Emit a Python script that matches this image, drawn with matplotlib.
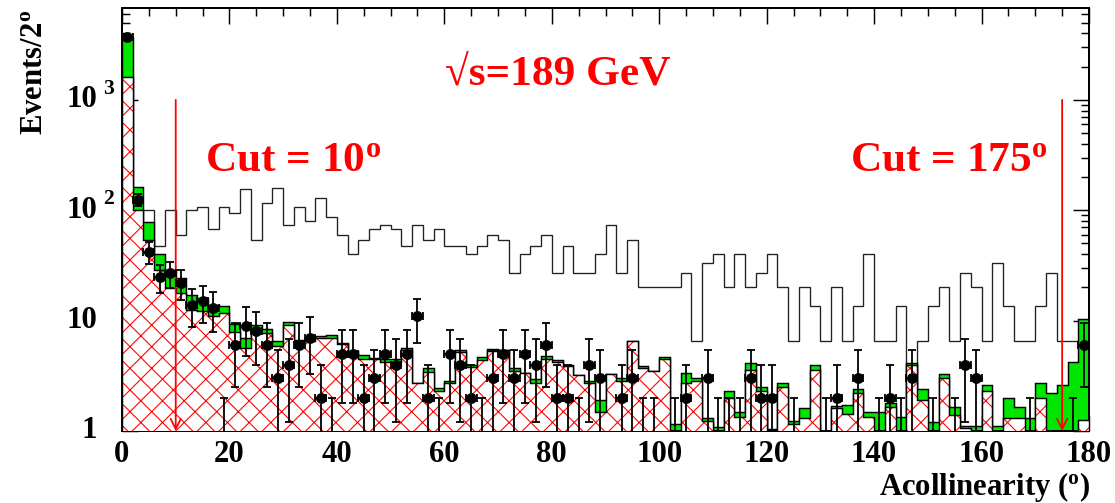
import numpy as np
import matplotlib
matplotlib.use("Agg")
import matplotlib.pyplot as plt
from matplotlib.ticker import MultipleLocator, LogLocator, NullFormatter, FixedLocator
from matplotlib.transforms import offset_copy

# acollinearity histogram, 2 degree bins from 0 to 180
bin_width = 2
edges = np.arange(0, 180 + bin_width, bin_width)
centers = edges[:-1] + bin_width / 2

# background 1 (red hatched)
bkg_red = [1600, 100, 54, 29, 19.8, 17.9, 12.6, 12.2, 11.0, 11.7,
           7.9, 5.6, 7.7, 7.7, 5.9, 9.2, 6.5, 6.6, 6.9, 7.0,
           6.2, 5.2, 4.5, 4.5, 4.2, 4.2, 5.4, 2.7, 3.46, 2.31,
           2.7, 5.15, 3.8, 4.4, 5.3, 5.45, 3.5, 3.35, 2.7, 4.5,
           4.2, 3.85, 3.2, 2.75, 1.5, 3.3, 2.85, 6.6, 3.7, 3.5,
           4.45, 0, 2.7, 2.85, 1.22, 0, 1.98, 1.35, 3.6, 2.28,
           0, 2.5, 1.15, 1.3, 3.6, 0, 1.6, 1.42, 2.23, 1.35,
           0, 1.66, 0, 3.98, 1.91, 0, 3.0, 1.4, 1.06, 0,
           2.28, 0, 1.3, 1.3, 0, 1.98, 0, 0, 0, 1.26]

# total background (green stacked on top of red)
bkg_total = [3600, 164, 78, 40, 29, 24.4, 17.2, 16, 14, 13.7,
             9.4, 7.0, 9.1, 8.4, 6.6, 9.7, 6.7, 7.0, 7.2, 7.4,
             6.3, 5.3, 4.9, 4.6, 4.5, 4.5, 5.65, 2.75, 3.7, 2.44,
             2.86, 5.4, 4.0, 4.7, 5.5, 5.45, 3.7, 3.35, 2.95, 4.74,
             4.4, 4.0, 3.2, 2.86, 1.91, 3.3, 3.0, 6.6, 3.9, 3.5,
             4.7, 1.16, 3.35, 3.05, 1.3, 1.08, 2.28, 1.5, 4.1, 2.5,
             1.05, 2.7, 1.22, 1.63, 4.0, 0, 1.7, 1.72, 2.4, 1.48,
             1.5, 1.78, 1.35, 4.17, 2.39, 1.2, 3.3, 1.64, 1.12, 1.1,
             2.6, 1.1, 1.98, 1.64, 1.3, 2.7, 2.2, 2.6, 4.2, 10.4]

# signal MC (open black histogram)
signal = [100, 100, 100, 47, 100, 60, 100, 107, 67, 107,
          95, 155, 54, 117, 160, 74, 107, 80, 128, 87,
          60, 40, 54, 67, 73, 67, 47, 73, 54, 67,
          47, 47, 40, 47, 60, 54, 27, 40, 47, 60,
          27, 47, 27, 27, 40, 73, 27, 54, 20, 20,
          20, 20, 27, 6.6, 33, 40, 20, 40, 20, 27,
          40, 20, 6.6, 20, 13.5, 6.6, 20, 6.6, 13.5, 40,
          6.6, 6.6, 13.5, 0, 6.6, 13.5, 20, 6.6, 27, 20,
          6.6, 33, 13.5, 6.6, 6.6, 13.5, 27, 6.6, 6.6, 6.6]

# data
data = [3700, 125, 42, 25, 27, 22, 14, 15, 13, 1,
        6, 9, 8, 6, 3, 4, 6, 7, 2, 1,
        5, 5, 2, 3, 5, 4, 5, 11, 2, 1,
        5, 4, 2, 1, 3, 5, 3, 5, 4, 6,
        2, 2, 1, 4, 3, 0, 2, 3, 1, 1,
        0, 1, 2, 0, 3, 1, 1, 1, 3, 2,
        2, 0, 1, 0, 0, 1, 2, 0, 3, 0,
        1, 2, 1, 3, 0, 1, 0, 1, 4, 3,
        0, 0, 0, 0, 1, 0, 0, 0, 1, 6]

data_err = [86, 16, 9.2, 7.1, 7.3, 6.6, 5.3, 5.5, 5.1, 1,
            3.5, 4.2, 4.0, 3.5, 2.45, 2.8, 3.5, 3.7, 2.0, 1,
            3.2, 3.2, 2.0, 2.45, 3.2, 2.8, 3.2, 4.7, 2.0, 1,
            3.2, 2.8, 2.0, 1, 2.45, 3.2, 2.45, 3.2, 2.8, 3.5,
            2.0, 2.0, 1, 2.8, 2.45, 0, 2.0, 2.45, 1, 1,
            0, 1, 2.0, 0, 2.45, 1, 1, 1, 2.45, 2.0,
            2.0, 0, 1, 0, 0, 1, 2.0, 0, 2.45, 0,
            1, 2.0, 1, 2.45, 0, 1, 0, 1, 2.8, 2.45,
            0, 0, 0, 0, 1, 0, 0, 0, 1, 3.5]

cuts = [10, 175]

plt.rcParams["font.family"] = "Liberation Serif"
plt.rcParams["font.weight"] = "bold"
plt.rcParams["mathtext.fontset"] = "custom"
plt.rcParams["mathtext.rm"] = "Liberation Serif:bold"
plt.rcParams["mathtext.bf"] = "Liberation Serif:bold"
plt.rcParams["mathtext.it"] = "Liberation Serif:bold"
plt.rcParams["hatch.linewidth"] = 0.6

dpi = 130
W, H = 1115, 503
fig = plt.figure(figsize=(W / dpi, H / dpi), dpi=dpi)
ax = fig.add_axes([122 / W, 1 - 431 / H, (1089 - 122) / W, (431 - 8) / H])
ax.set_yscale("log")

floor = 1e-3
sig = np.clip(np.array(signal, float), floor, None)
tot = np.clip(np.array(bkg_total, float), floor, None)
red = np.clip(np.array(bkg_red, float), floor, None)

ax.stairs(sig, edges, baseline=None, color="#222222", lw=0.75, zorder=1)

ax.stairs(tot, edges, baseline=floor, fill=True, color="#00e600", lw=0, zorder=2)
ax.stairs(tot, edges, baseline=floor, color="black", lw=0.8, zorder=2.1)

ax.stairs(red, edges, baseline=floor, fill=True, facecolor="white",
          edgecolor="red", hatch="xx", lw=0, zorder=3)
ax.stairs(red, edges, baseline=floor, color="black", lw=0.8, zorder=3.1)

# data points
d = np.array(data, float)
e = np.array(data_err, float)
big = d >= 2
low = np.minimum(e[big], d[big] - 0.01)
ax.errorbar(centers[big], d[big], xerr=bin_width / 2, yerr=[low, e[big]],
            fmt="o", color="black", ms=5, elinewidth=1.0, capsize=2.3,
            capthick=1.0, zorder=6)
one = d == 1
ax.errorbar(centers[one], d[one], yerr=[np.full(one.sum(), 0.99), e[one]],
            fmt="none", ecolor="black", elinewidth=1.0, capsize=2.3,
            capthick=1.0, zorder=6)

# cut lines
for c in cuts:
    ax.annotate("", xy=(c, 1), xytext=(c, 1000),
                arrowprops=dict(arrowstyle="->", color="red", lw=1.0,
                                mutation_scale=14, shrinkA=0, shrinkB=0),
                zorder=5)

ax.text(81.2, 1370, "\u221as=189 GeV", color="red", fontsize=24,
        ha="center", va="baseline")
ax.text(15.4, 225, r"Cut = 10$^{\mathbf{o}}$", color="red", fontsize=24,
        ha="left", va="baseline")
ax.text(135.5, 225, r"Cut = 175$^{\mathbf{o}}$", color="red", fontsize=24,
        ha="left", va="baseline")

ax.set_xlim(0, 180)
ax.set_ylim(1, 6800)

# axis ticks, ROOT style (inside, on all sides)
ax.xaxis.set_major_locator(MultipleLocator(20))
ax.xaxis.set_minor_locator(MultipleLocator(5))
ax.yaxis.set_major_locator(FixedLocator([1, 10, 100, 1000]))
ax.yaxis.set_minor_locator(LogLocator(base=10, subs=np.arange(2, 10)))
ax.yaxis.set_major_formatter(NullFormatter())
ax.yaxis.set_minor_formatter(NullFormatter())
ax.tick_params(which="both", direction="in", top=True, right=True, width=0.8)
ax.tick_params(which="major", length=9)
ax.tick_params(which="minor", length=4.5)
ax.tick_params(axis="x", labelsize=17, pad=5)
for lab in ax.get_xticklabels():
    lab.set_fontweight("bold")
for s in ax.spines.values():
    s.set_linewidth(1.1)

# y tick labels written by hand (10 with raised exponent)
ytr = ax.get_yaxis_transform()
sup_tr = offset_copy(ytr, fig=fig, x=0, y=11, units="dots")
xlab = (97 - 122) / (1089 - 122)
xsup = (103 - 122) / (1089 - 122)
ax.text(xlab, 1, "1", transform=ytr, fontsize=17, ha="right", va="center")
ax.text(xlab, 10, "10", transform=ytr, fontsize=17, ha="right", va="center")
for v, p in [(100, "2"), (1000, "3")]:
    ax.text(xlab, v, "10", transform=ytr, fontsize=17, ha="right", va="center")
    ax.text(xsup, v, p, transform=sup_tr, fontsize=12, ha="left", va="center")

fig.text(35 / W, 1 - 10 / H, r"Events/2$^{\mathbf{o}}$", rotation=90,
         fontsize=17, ha="center", va="top")
fig.text(1090 / W, 1 - 495 / H, r"Acollinearity ($^{\mathbf{o}}$)",
         fontsize=17, ha="right", va="baseline")

fig.savefig("out.png", dpi=dpi)
